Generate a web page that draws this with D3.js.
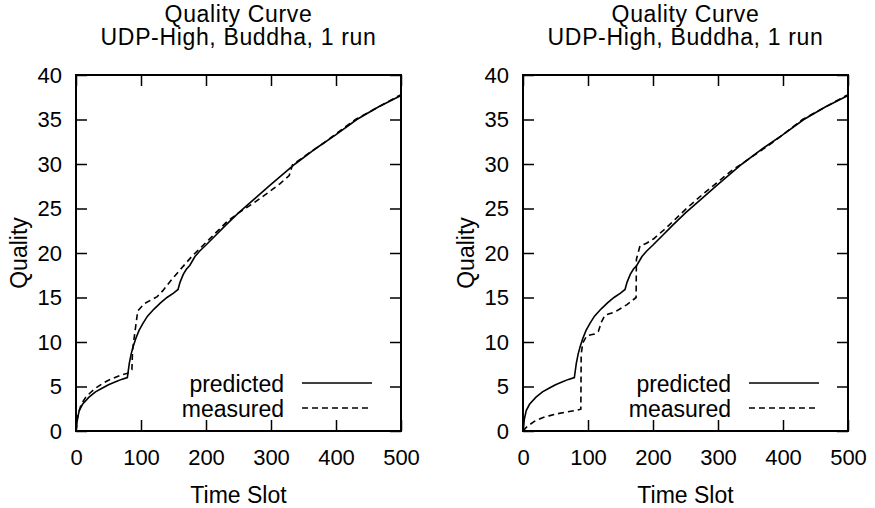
<!DOCTYPE html>
<html><head>
<meta charset="utf-8">
<title>Quality Curve</title>
<script src="https://d3js.org/d3.v7.min.js"></script>
<style>
  body { margin: 0; background: #fff; }
  svg text { font-family: "Liberation Sans", Arial, sans-serif; fill: #000; }
</style>
</head>
<body>
<div id="chart"></div>
<script>

// predicted curve (same model in both panels)
var predX = [0, 2, 5, 10, 20, 30, 40, 50, 60, 70, 79, 82, 85, 88, 92, 97, 103, 110, 120, 130, 140, 150, 157,
             160, 165, 170, 175, 183, 190, 200, 215, 230, 250, 275, 300, 337, 370, 400, 432, 465, 500];
var predY = [0, 1.3, 2.3, 3.0, 3.8, 4.4, 4.8, 5.2, 5.5, 5.8, 6.0, 7.6, 8.7, 9.5, 10.4, 11.3, 12.1, 12.9, 13.7, 14.4, 15.0, 15.5, 15.9,
             16.7, 17.6, 18.2, 18.6, 19.6, 20.2, 20.9, 22.0, 23.1, 24.5, 26.1, 27.7, 30.0, 31.8, 33.3, 35.0, 36.4, 37.7];

// measured, left panel
var measLeftX = [0, 3, 8, 15, 22, 30, 40, 50, 60, 70, 80, 86, 87, 95, 105, 125, 134, 147, 160, 178, 196, 214, 232,
                 252, 273, 294, 314, 328, 333, 360, 380, 400, 430, 465, 500];
var measLeftY = [0, 1.8, 3.0, 3.8, 4.3, 4.8, 5.3, 5.7, 6.0, 6.3, 6.5, 6.9, 9.1, 13.5, 14.3, 15.1, 15.8, 17.0, 18.1, 19.6, 20.9, 22.2, 23.5,
                 24.6, 25.6, 26.7, 27.8, 28.7, 29.9, 31.3, 32.3, 33.4, 35.0, 36.4, 37.8];

// measured, right panel
var measRightX = [0, 5, 10, 18, 30, 40, 50, 65, 80, 89, 89.5, 92, 98, 110, 116, 121, 126, 142, 160, 174, 174.5, 180,
                  190, 201, 220, 240, 253, 275, 300, 320, 348, 380, 400, 430, 465, 500];
var measRightY = [0, 0.4, 0.7, 1.1, 1.5, 1.7, 1.9, 2.1, 2.3, 2.45, 8.6, 9.9, 10.7, 10.9, 11.2, 12.3, 13.0, 13.4, 14.2, 15.0, 19.3, 20.8,
                  21.1, 21.6, 22.8, 24.2, 25.1, 26.5, 28.0, 29.2, 30.6, 32.2, 33.3, 35.0, 36.4, 37.8];

var xTicks = [0, 100, 200, 300, 400, 500];
var yTicks = [0, 5, 10, 15, 20, 25, 30, 35, 40];
var titleLines = ["Quality Curve", "UDP-High, Buddha, 1 run"];
var legendNames = ["predicted", "measured"];

function zip(xs, ys) { return xs.map(function(x, i) { return {x: x, y: ys[i]}; }); }

var svg = d3.select("#chart").append("svg")
  .attr("width", 875).attr("height", 508);

var panelW = 325, panelH = 356, panelTop = 75;
var tickLen = 11;

function drawPanel(left, measured) {
  var g = svg.append("g").attr("transform", "translate(" + left + "," + panelTop + ")");

  var x = d3.scaleLinear().domain([0, 500]).range([0, panelW]);
  var y = d3.scaleLinear().domain([0, 40]).range([panelH, 0]);

  // axes, ticks pointing inward on all sides
  var bottom = g.append("g").attr("transform", "translate(0," + panelH + ")")
    .call(d3.axisBottom(x).tickValues(xTicks).tickSize(-tickLen).tickPadding(18));
  var topAx = g.append("g")
    .call(d3.axisTop(x).tickValues(xTicks).tickSize(-tickLen).tickFormat(""));
  var leftAx = g.append("g")
    .call(d3.axisLeft(y).tickValues(yTicks).tickSize(-tickLen).tickPadding(14));
  var rightAx = g.append("g").attr("transform", "translate(" + panelW + ",0)")
    .call(d3.axisRight(y).tickValues(yTicks).tickSize(-tickLen).tickFormat(""));

  [bottom, topAx, leftAx, rightAx].forEach(function(a) {
    a.select(".domain").remove();
    a.selectAll(".tick line").attr("stroke", "#000").attr("stroke-width", 1.5);
    a.selectAll("text").style("font-size", "22px").attr("fill", "#000");
  });

  var line = d3.line().x(function(d) { return x(d.x); }).y(function(d) { return y(d.y); });

  g.append("path").datum(zip(predX, predY))
    .attr("fill", "none").attr("stroke", "#000").attr("stroke-width", 1.6)
    .attr("d", line);

  g.append("path").datum(measured)
    .attr("fill", "none").attr("stroke", "#000").attr("stroke-width", 1.6)
    .attr("stroke-dasharray", "6,4")
    .attr("d", line);

  // frame
  g.append("rect").attr("width", panelW).attr("height", panelH)
    .attr("fill", "none").attr("stroke", "#000").attr("stroke-width", 2);

  // title
  titleLines.forEach(function(t, i) {
    g.append("text").attr("x", panelW / 2).attr("y", 21.5 + i * 23.5 - panelTop)
      .attr("text-anchor", "middle").style("font-size", "23px")
      .style("letter-spacing", "0.65px").text(t);
  });

  // axis labels
  g.append("text").attr("x", panelW / 2).attr("y", 503 - panelTop)
    .attr("text-anchor", "middle").style("font-size", "23px").text("Time Slot");
  g.append("text")
    .attr("transform", "translate(-49," + (panelH / 2) + ") rotate(-90)")
    .attr("text-anchor", "middle").style("font-size", "23px").text("Quality");

  // legend
  legendNames.forEach(function(name, i) {
    var ly = 383 + i * 25 - panelTop;
    g.append("text").attr("x", 208).attr("y", ly + 9)
      .attr("text-anchor", "end").style("font-size", "23px").text(name);
    g.append("line").attr("x1", 226).attr("x2", 296).attr("y1", ly).attr("y2", ly)
      .attr("stroke", "#000").attr("stroke-width", 1.6)
      .attr("stroke-dasharray", i === 1 ? "6,4" : null);
  });
}

drawPanel(76, zip(measLeftX, measLeftY));
drawPanel(523, zip(measRightX, measRightY));

</script>
</body></html>
